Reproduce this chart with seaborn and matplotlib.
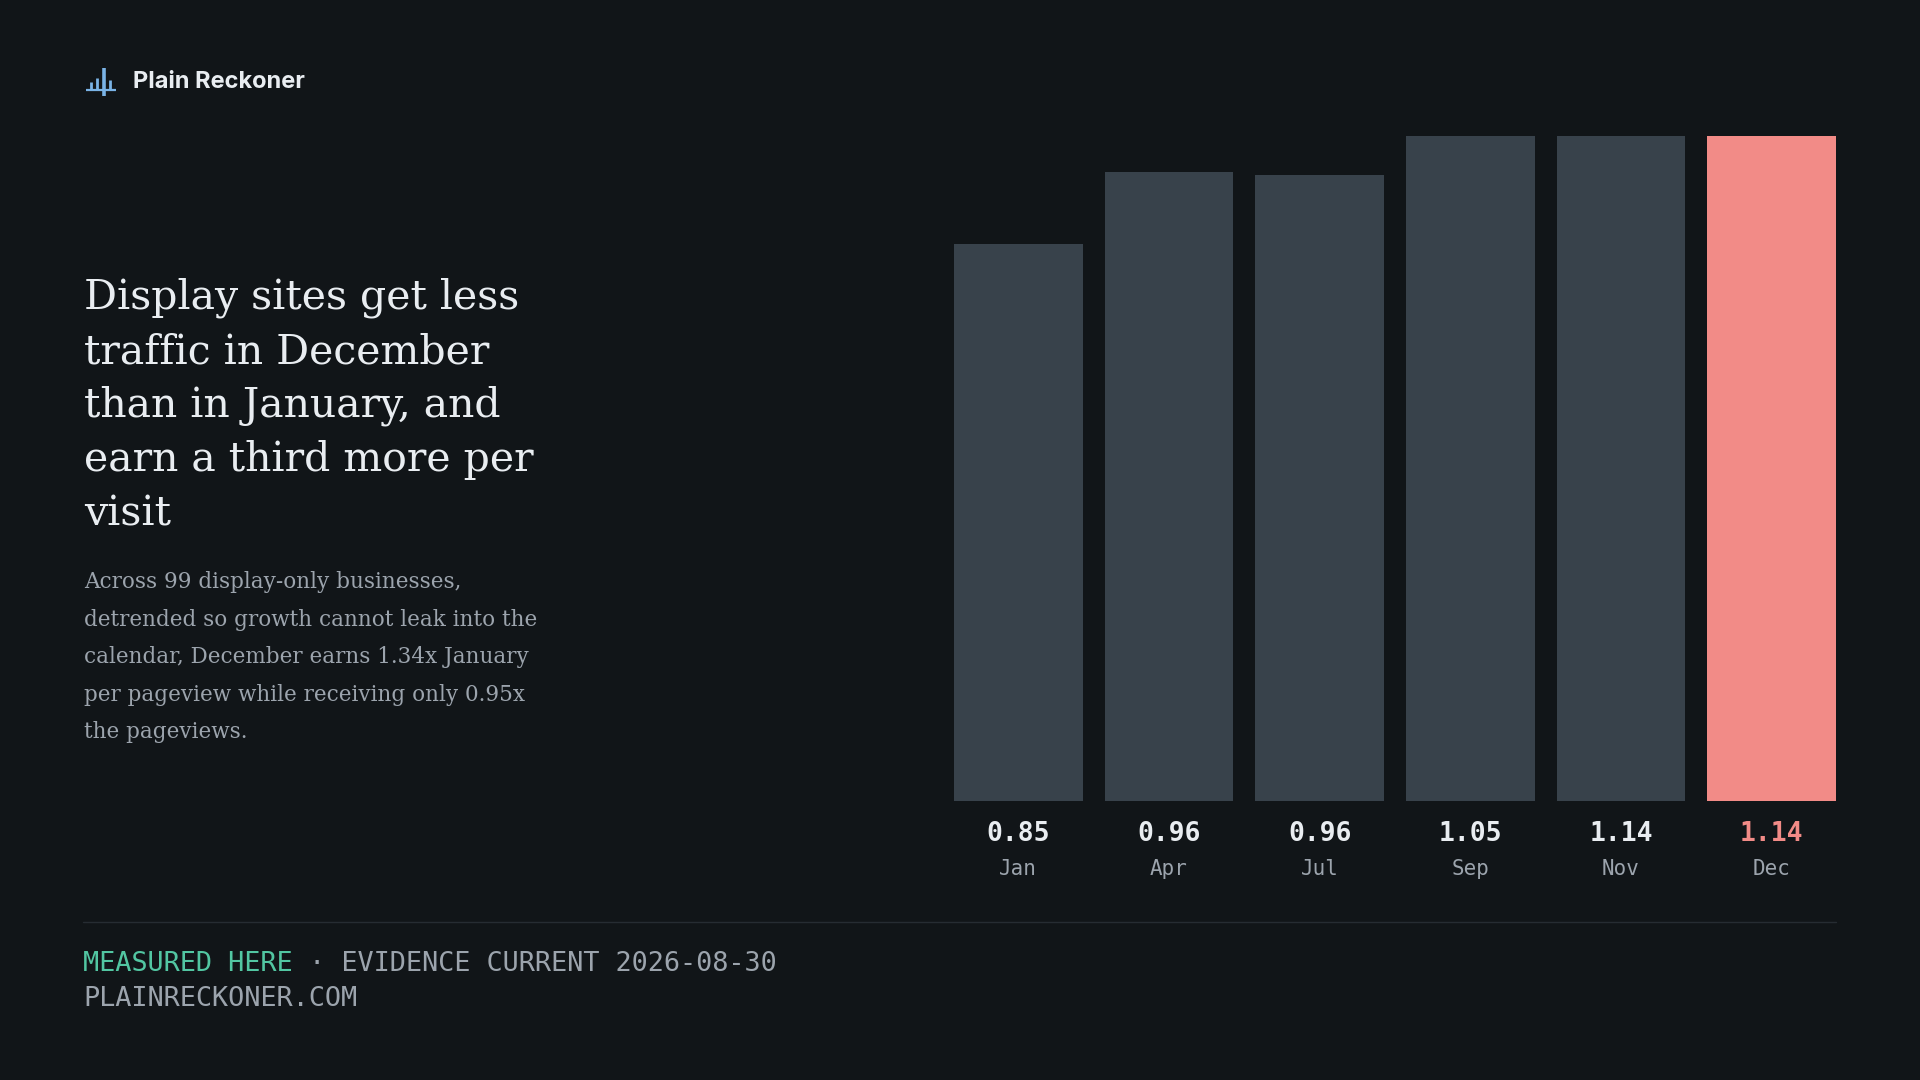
import matplotlib
matplotlib.use("Agg")
import matplotlib.pyplot as plt
import seaborn as sns
import pandas as pd
from matplotlib import transforms
from matplotlib.lines import Line2D

# ---- data ----
months = ["Jan", "Apr", "Jul", "Sep", "Nov", "Dec"]
values = [0.85, 0.96, 0.955, 1.05, 1.14, 1.14]
value_labels = ["0.85", "0.96", "0.96", "1.05", "1.14", "1.14"]
highlight = "Dec"

brand = "Plain Reckoner"
title_lines = ["Display sites get less", "traffic in December", "than in January, and",
               "earn a third more per", "visit"]
sub_lines = ["Across 99 display-only businesses,", "detrended so growth cannot leak into the",
             "calendar, December earns 1.34x January", "per pageview while receiving only 0.95x",
             "the pageviews."]
foot_a = "MEASURED HERE"
foot_b = " \u00b7 EVIDENCE CURRENT 2026-08-30"
foot_c = "PLAINRECKONER.COM"

# ---- style ----
BG = "#111518"
BAR = "#38424b"
HI = "#f28b87"
TXT = "#e9edf1"
MUTED = "#9ca4ad"
TEAL = "#52c6a2"
ICON = "#7ab3e6"
RULE = "#262c32"

sns.set_theme(style="dark", rc={"axes.facecolor": BG, "figure.facecolor": BG})
plt.rcParams["font.family"] = ["DejaVu Sans"]

W, H = 1920, 1080
fig = plt.figure(figsize=(19.2, 10.8), dpi=100, facecolor=BG)


def fx(x):
    return x / W


def fy(y):
    return 1 - y / H


ax = fig.add_axes([fx(954), fy(801), (1836 - 954) / W, (801 - 136) / H])
df = pd.DataFrame({"month": months, "value": values})
palette = {m: (HI if m == highlight else BAR) for m in months}
sns.barplot(data=df, x="month", y="value", hue="month", palette=palette,
            width=0.854, saturation=1, legend=False, linewidth=0, ax=ax)
ax.set_xlim(-0.427, len(months) - 1 + 0.427)
ax.set_ylim(0, 1.015)
ax.set_facecolor(BG)
ax.axis("off")

trans = transforms.blended_transform_factory(ax.transData, fig.transFigure)
for i, (m, lab) in enumerate(zip(months, value_labels)):
    col = HI if m == highlight else TXT
    ax.text(i, fy(834), lab, transform=trans, ha="center", va="center",
            family="DejaVu Sans Mono", weight="bold", size=19, color=col)
    ax.text(i, fy(869), m, transform=trans, ha="center", va="center",
            family="DejaVu Sans Mono", size=15, color=MUTED)

# ---- logo ----
def fline(x0, y0, x1, y1, lw, color):
    fig.add_artist(Line2D([fx(x0), fx(x1)], [fy(y0), fy(y1)], transform=fig.transFigure,
                          color=color, lw=lw, solid_capstyle="butt"))

fline(86, 90, 116, 90, 1.6, ICON)
fline(91, 90, 91, 82, 2.0, ICON)
fline(97, 90, 97, 78, 2.0, ICON)
fline(104, 96, 104, 68, 2.6, ICON)
fline(110, 90, 110, 80, 2.0, ICON)
fig.text(fx(133), fy(88.5), brand, family="Inter", weight="bold", size=17,
         color=TXT, va="baseline", ha="left")

# ---- title & subtitle ----
for line, b in zip(title_lines, [309, 363, 417, 471, 525]):
    fig.text(fx(84), fy(b), line, family="DejaVu Serif", size=29.5, color=TXT,
             va="baseline", ha="left")
for line, b in zip(sub_lines, [588, 626, 663, 701, 738]):
    fig.text(fx(84), fy(b), line, family="DejaVu Serif", size=15.5, color=MUTED,
             va="baseline", ha="left")

# ---- footer ----
fig.add_artist(Line2D([fx(83), fx(1836)], [fy(921.5), fy(921.5)], transform=fig.transFigure,
                      color=RULE, lw=1.0))
t1 = fig.text(fx(83), fy(964), foot_a, family="DejaVu Sans Mono", size=19.4,
              color=TEAL, va="center", ha="left")
ax.annotate(foot_b, xy=(1, 0.5), xycoords=t1, va="center", ha="left",
            family="DejaVu Sans Mono", size=19.4, color=MUTED, annotation_clip=False)
fig.text(fx(83), fy(999), foot_c, family="DejaVu Sans Mono", size=19.4,
         color=MUTED, va="center", ha="left")

fig.savefig("out.png", dpi=100, facecolor=BG)
